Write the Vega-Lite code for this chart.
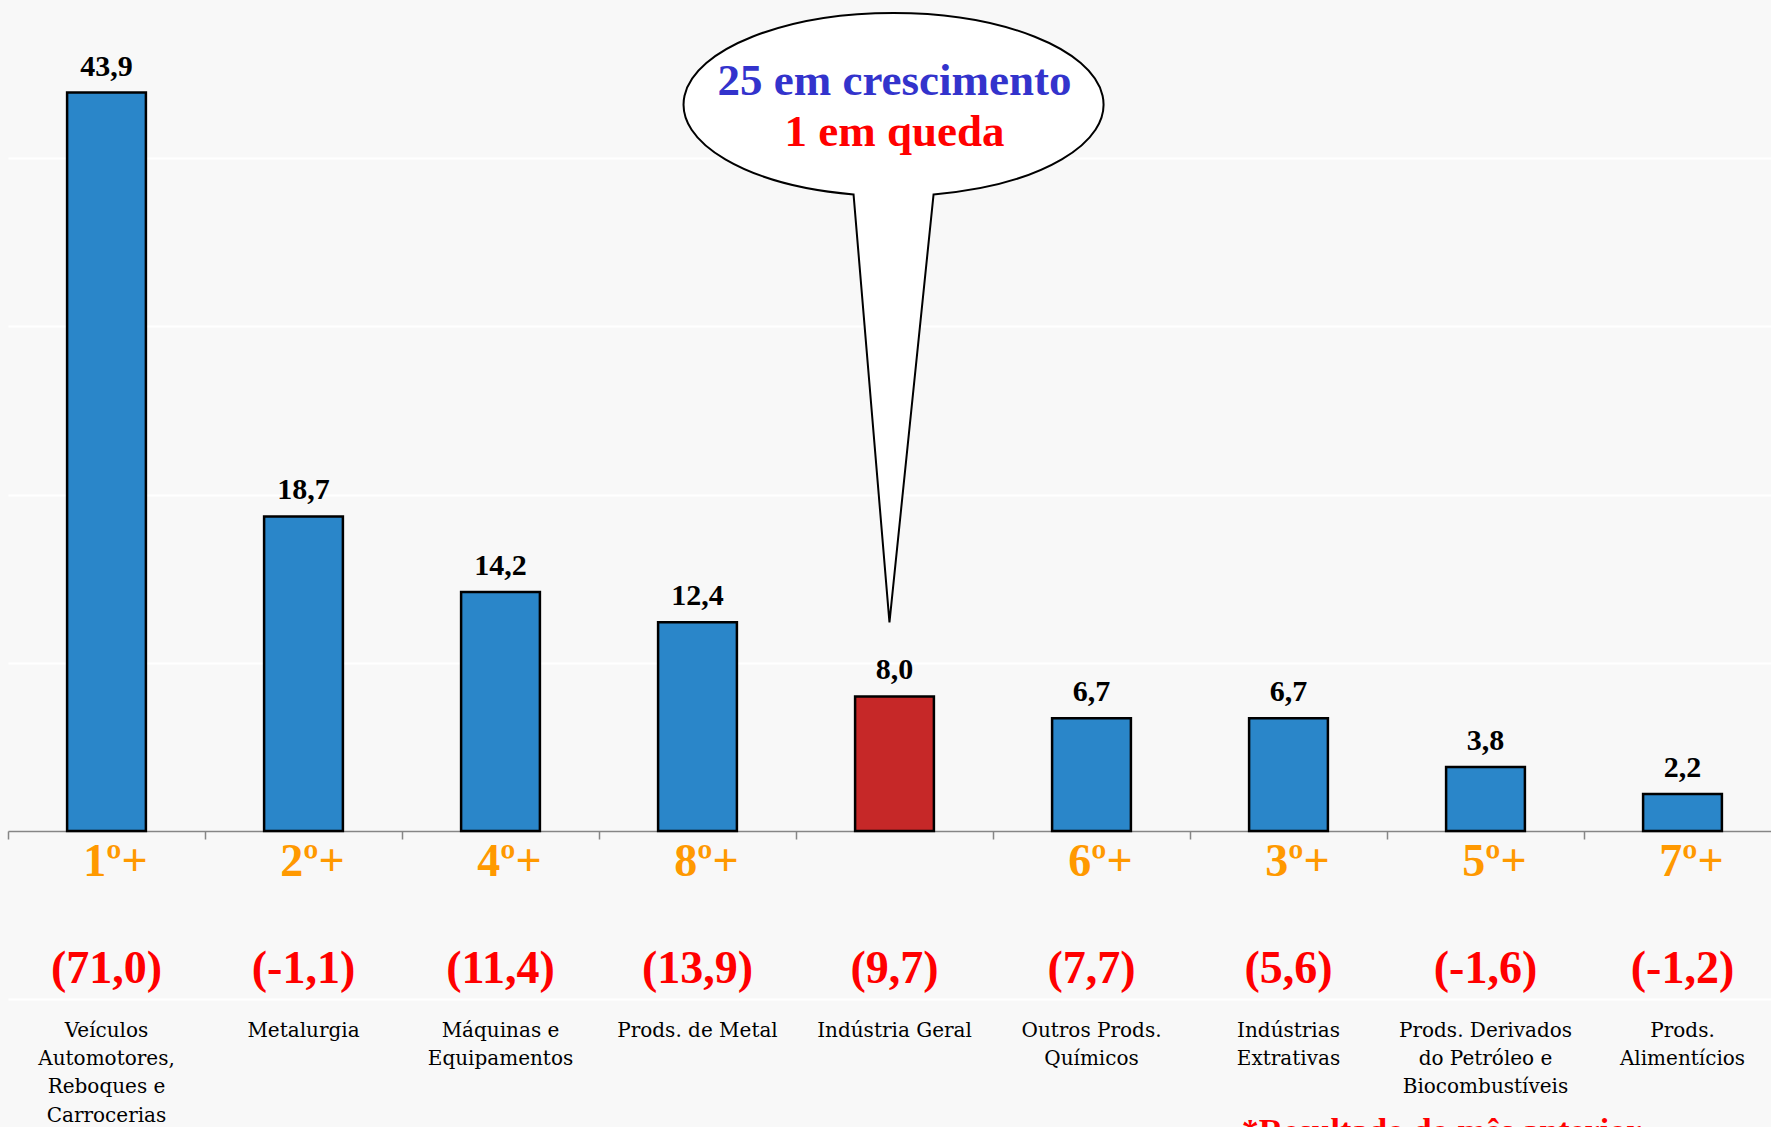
{
  "$schema": "https://vega.github.io/schema/vega-lite/v6.json",
  "width": 1763,
  "height": 1127,
  "autosize": "none",
  "padding": {"left": 8, "top": 0, "right": 0, "bottom": 0},
  "background": "#f8f8f8",
  "config": {"view": {"stroke": null}},
  "data": {
    "values": [
      {"setor": "Veículos", "label": "Veículos\nAutomotores,\nReboques e\nCarrocerias", "valor": 43.9, "valorTxt": "43,9", "rank": "1º+", "anterior": "(71,0)", "tipo": "setor"},
      {"setor": "Metalurgia", "label": "Metalurgia", "valor": 18.7, "valorTxt": "18,7", "rank": "2º+", "anterior": "(-1,1)", "tipo": "setor"},
      {"setor": "Máquinas", "label": "Máquinas e\nEquipamentos", "valor": 14.2, "valorTxt": "14,2", "rank": "4º+", "anterior": "(11,4)", "tipo": "setor"},
      {"setor": "Metal", "label": "Prods. de Metal", "valor": 12.4, "valorTxt": "12,4", "rank": "8º+", "anterior": "(13,9)", "tipo": "setor"},
      {"setor": "Geral", "label": "Indústria Geral", "valor": 8.0, "valorTxt": "8,0", "rank": "", "anterior": "(9,7)", "tipo": "geral"},
      {"setor": "Químicos", "label": "Outros Prods.\nQuímicos", "valor": 6.7, "valorTxt": "6,7", "rank": "6º+", "anterior": "(7,7)", "tipo": "setor"},
      {"setor": "Extrativas", "label": "Indústrias\nExtrativas", "valor": 6.7, "valorTxt": "6,7", "rank": "3º+", "anterior": "(5,6)", "tipo": "setor"},
      {"setor": "Petróleo", "label": "Prods. Derivados\ndo Petróleo e\nBiocombustíveis", "valor": 3.8, "valorTxt": "3,8", "rank": "5º+", "anterior": "(-1,6)", "tipo": "setor"},
      {"setor": "Alimentícios", "label": "Prods.\nAlimentícios", "valor": 2.2, "valorTxt": "2,2", "rank": "7º+", "anterior": "(-1,2)", "tipo": "setor"}
    ]
  },
  "encoding": {
    "x": {
      "field": "setor",
      "type": "nominal",
      "sort": null,
      "scale": {"range": [0, 1773], "paddingInner": 0, "paddingOuter": 0},
      "axis": {
        "title": null,
        "labels": false,
        "grid": false,
        "domainColor": "#868686",
        "domainWidth": 1.5,
        "tickColor": "#868686",
        "tickWidth": 1.5,
        "tickSize": 8,
        "tickBand": "extent",
        "offset": -296
      }
    }
  },
  "layer": [
    {
      "mark": {"type": "bar", "width": {"band": 0.4}, "stroke": "#000000", "strokeWidth": 2.5},
      "encoding": {
        "y": {
          "field": "valor",
          "type": "quantitative",
          "scale": {"domain": [-17.6, 49.4], "nice": false, "zero": false},
          "axis": {
            "title": null,
            "labels": false,
            "ticks": false,
            "domain": false,
            "values": [-10, 10, 20, 30, 40],
            "gridColor": "#ffffff",
            "gridWidth": 2
          }
        },
        "y2": {"datum": 0},
        "color": {
          "field": "tipo",
          "type": "nominal",
          "scale": {"domain": ["setor", "geral"], "range": ["#2A86C9", "#C62828"]},
          "legend": null
        }
      }
    },
    {
      "mark": {"type": "text", "baseline": "alphabetic", "dy": -17, "font": "Liberation Serif", "fontWeight": "bold", "fontSize": 30, "color": "#000000"},
      "encoding": {
        "y": {"field": "valor", "type": "quantitative"},
        "text": {"field": "valorTxt"}
      }
    },
    {
      "mark": {"type": "text", "baseline": "alphabetic", "dx": 9, "font": "Liberation Serif", "fontWeight": "bold", "fontSize": 46, "color": "#FF9900"},
      "encoding": {
        "y": {"datum": -2.7},
        "text": {"field": "rank"}
      }
    },
    {
      "mark": {"type": "text", "baseline": "alphabetic", "font": "Liberation Serif", "fontWeight": "bold", "fontSize": 46, "color": "#FF0000"},
      "encoding": {
        "y": {"datum": -9.04},
        "text": {"field": "anterior"}
      }
    },
    {
      "mark": {"type": "text", "baseline": "alphabetic", "lineBreak": "\n", "lineHeight": 28.3, "font": "DejaVu Serif", "fontSize": 20, "color": "#000000"},
      "encoding": {
        "y": {"datum": -12.24},
        "text": {"field": "label"}
      }
    },
    {
      "data": {"values": [{"n": 1}]},
      "mark": {
        "type": "point",
        "shape": "M -0.195 0.429 A 1 0.436 0 1 1 0.186 0.429 L -0.024 2.467 Z",
        "size": 176400,
        "filled": true,
        "fill": "#ffffff",
        "stroke": "#000000",
        "strokeWidth": 2,
        "opacity": 1,
        "fillOpacity": 1
      },
      "encoding": {
        "x": {"datum": "Geral"},
        "y": {"datum": 43.2}
      }
    },
    {
      "data": {"values": [{"t": "25 em crescimento"}]},
      "mark": {"type": "text", "baseline": "alphabetic", "font": "Liberation Serif", "fontWeight": "bold", "fontSize": 45, "color": "#3333CC"},
      "encoding": {
        "x": {"datum": "Geral"},
        "y": {"datum": 43.76},
        "text": {"field": "t"}
      }
    },
    {
      "data": {"values": [{"t": "1 em queda"}]},
      "mark": {"type": "text", "baseline": "alphabetic", "font": "Liberation Serif", "fontWeight": "bold", "fontSize": 45, "color": "#FF0000"},
      "encoding": {
        "x": {"datum": "Geral"},
        "y": {"datum": 40.7},
        "text": {"field": "t"}
      }
    },
    {
      "data": {"values": [{"t": "*Resultado do mês anterior"}]},
      "mark": {"type": "text", "baseline": "alphabetic", "dx": -44, "font": "Liberation Serif", "fontWeight": "bold", "fontSize": 34, "color": "#FF0000"},
      "encoding": {
        "x": {"datum": "Petróleo"},
        "y": {"datum": -18.5},
        "text": {"field": "t"}
      }
    }
  ]
}
